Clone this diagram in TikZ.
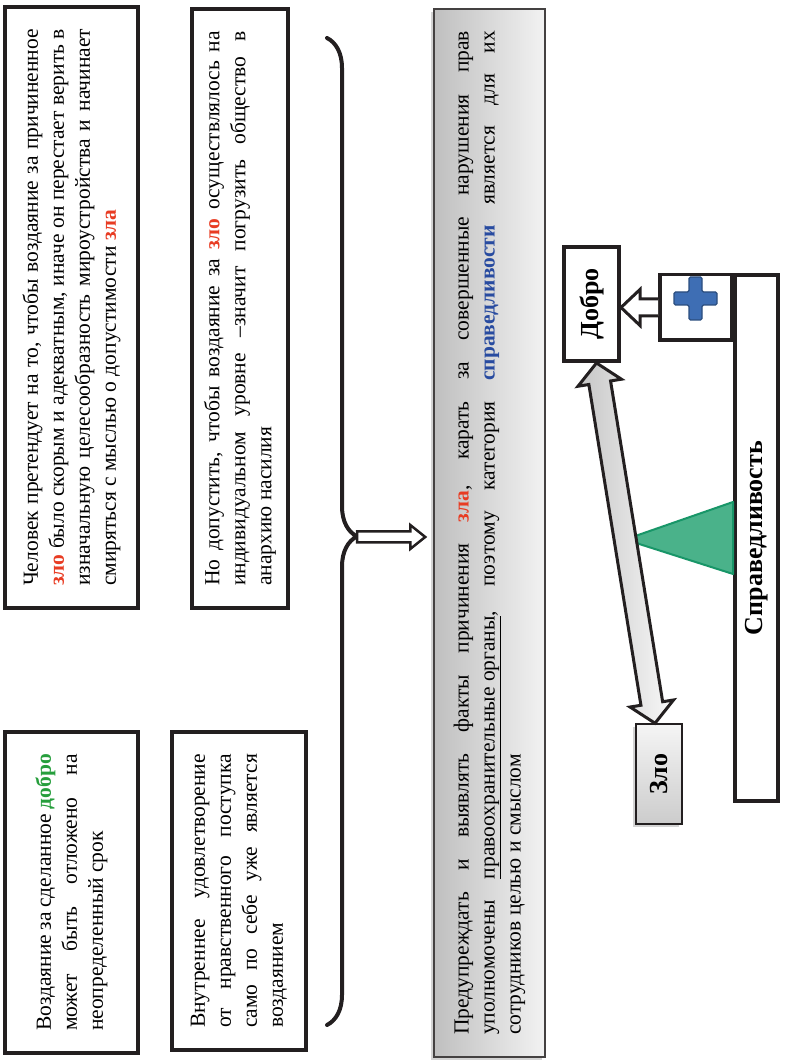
\documentclass[tikz,border=0pt]{standalone}
\usepackage{fontspec}
\setmainfont{Liberation Serif}
\usetikzlibrary{calc,shadows,decorations.pathreplacing}
\definecolor{ink}{RGB}{35,31,32}
\definecolor{zlored}{RGB}{232,60,35}
\definecolor{dobrogreen}{RGB}{38,158,60}
\definecolor{pravblue}{RGB}{40,75,160}
\definecolor{wedge}{RGB}{74,178,138}
\definecolor{wedgeedge}{RGB}{24,150,104}
\definecolor{plusblue}{RGB}{62,110,180}
\hyphenpenalty=10000
\exhyphenpenalty=10000

\begin{document}
\begin{tikzpicture}[x=1pt,y=1pt,
  notebox/.style={rotate=90,draw=ink,line width=4pt,inner xsep=22pt,inner ysep=2pt,
    align=justify,font=\fontsize{21.5}{26}\selectfont},
  namebox/.style={rotate=90,draw=ink,fill=white,line width=4pt,inner sep=0pt,
    font=\bfseries\fontsize{26}{30}\selectfont},
  hollow/.style={draw=ink,fill=white,line join=miter}]
\useasboundingbox (0,0) rectangle (785,1064);

% Left: four statements
\node[notebox,minimum width=601pt,minimum height=133pt,text width=557pt] (chelovek) at (71.5,756.5)
  {Человек претендует на то, чтобы воздаяние за причиненное\linebreak
   \textcolor{zlored}{\textbf{зло}} было скорым и адекватным, иначе он перестает верить в\linebreak
   изначальную целесообразность мироустройства и начинает\linebreak
   смиряться с мыслью о допустимости \textcolor{zlored}{\textbf{зла}}};
\node[notebox,minimum width=599pt,minimum height=96pt,text width=555pt] (dopustit) at (240,755.5)
  {Но допустить, чтобы воздаяние за \textcolor{zlored}{\textbf{зло}} осуществлялось на\linebreak
   индивидуальном уровне –значит погрузить общество в\linebreak
   анархию насилия};
\node[notebox,minimum width=321pt,minimum height=133pt,text width=277pt] (vozdayanie) at (71.5,171.5)
  {Воздаяние за сделанное \textcolor{dobrogreen}{\textbf{добро}}\linebreak
   может быть отложено на\linebreak
   неопределенный срок};
\node[notebox,minimum width=318pt,minimum height=134pt,text width=274pt] (vnutr) at (239,173)
  {Внутреннее удовлетворение\linebreak
   от нравственного поступка\linebreak
   само по себе уже является\linebreak
   воздаянием};

% Brace and arrow to the conclusion
\coordinate (bracetop) at (327,1026);
\coordinate (bracebot) at (327,39);
\coordinate (bracetip) at (357,527);
\draw[ink,line width=4pt,line cap=round,decorate,decoration={brace,amplitude=30pt,aspect=0.505}]
  (bracetop) -- (bracebot);

\node[notebox,line width=1.5pt,draw=ink!85,left color=gray!50,right color=gray!10,
  drop shadow={shadow xshift=-3pt,shadow yshift=-3pt,opacity=0.35},
  minimum width=1048pt,minimum height=111pt,text width=1004pt] (pravo) at (489.5,531)
  {Предупреждать и выявлять факты причинения \textcolor{zlored}{\textbf{зла}}, карать за совершенные нарушения прав\linebreak
   уполномочены \underline{правоохранительные органы}, поэтому категория \textcolor{pravblue}{\textbf{справедливости}} является для их\linebreak
   сотрудников целью и смыслом};

\coordinate (braceend) at ($(bracetip -| pravo.north)+(-8,0)$);
\draw[hollow,line width=2.5pt] ($(bracetip)+(0,5.5)$) -- ($(braceend)+(-15,5.5)$)
  -- ($(braceend)+(-15,12)$) -- (braceend) -- ($(braceend)+(-15,-12)$)
  -- ($(braceend)+(-15,-5.5)$) -- ($(bracetip)+(0,-5.5)$) -- cycle;

% Right: the scales
\node[namebox,minimum width=114pt,minimum height=55pt] (dobro) at (591.5,760) {Добро};
\node[namebox,minimum width=526pt,minimum height=43pt] (sprav) at (756.5,526) {Справедливость};
\node[draw=ink,fill=white,line width=3.5pt,minimum width=71.5pt,minimum height=65.5pt] (plusbox) at (695.5,756.5) {};
\node[namebox,line width=1.5pt,top color=gray!8,bottom color=gray!40,
  drop shadow={shadow xshift=-3pt,shadow yshift=-3pt,opacity=0.35},
  minimum width=100pt,minimum height=46pt] (zlo) at (659,290) {Зло};

% plus sign
\begin{scope}[shift={($(plusbox.center)+(0,9)$)}]
  \filldraw[fill=plusblue,draw=plusblue!70!black,line width=1.2pt,rounded corners=1.5pt]
    (-6.5,21.5) -- (6.5,21.5) -- (6.5,6.5) -- (21.5,6.5) -- (21.5,-6.5) -- (6.5,-6.5)
    -- (6.5,-21.5) -- (-6.5,-21.5) -- (-6.5,-6.5) -- (-21.5,-6.5) -- (-21.5,6.5) -- (-6.5,6.5) -- cycle;
\end{scope}

% plus -> Добро
\coordinate (pa) at (plusbox.west);
\coordinate (pb) at (plusbox.west -| dobro.south);
\draw[hollow,line width=3pt] ($(pa)+(0,8.5)$) -- ($(pb)+(19,8.5)$) -- ($(pb)+(19,18)$)
  -- (pb) -- ($(pb)+(19,-18)$) -- ($(pb)+(19,-8.5)$) -- ($(pa)+(0,-8.5)$);

% beam between Добро and Зло, with the green pivot
\coordinate (da) at ($(dobro.west)+(5,0)$);
\coordinate (db) at ($(zlo.east)+(-4,0)$);
\coordinate (ha) at ($(da)!20pt!(db)$);
\coordinate (hb) at ($(db)!20pt!(da)$);
\coordinate (apex) at ($(da)!0.49!(db)$);
\filldraw[fill=wedge,draw=wedgeedge,line width=2pt,line join=round]
  (apex) -- ($(sprav.north)+(0,36)$) -- ($(sprav.north)+(0,-36)$) -- cycle;
\draw[draw=ink,line width=3pt,line join=miter,left color=gray!45,right color=gray!5]
  (da) -- ($(ha)!22pt!90:(db)$) -- ($(ha)!11pt!90:(db)$) -- ($(hb)!11pt!-90:(da)$)
  -- ($(hb)!22pt!-90:(da)$) -- (db) -- ($(hb)!22pt!90:(da)$) -- ($(hb)!11pt!90:(da)$)
  -- ($(ha)!11pt!-90:(db)$) -- ($(ha)!22pt!-90:(db)$) -- cycle;

\end{tikzpicture}
\end{document}
